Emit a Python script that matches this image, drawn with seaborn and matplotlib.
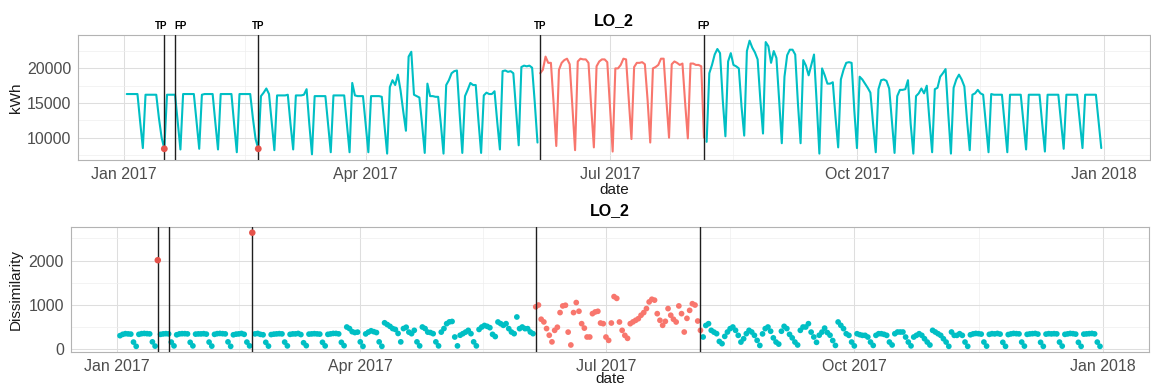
import numpy as np
import pandas as pd
import matplotlib
matplotlib.use("Agg")
import matplotlib.pyplot as plt
import matplotlib.transforms as mtransforms
import seaborn as sns

TEAL = "#00BFC4"
SALMON = "#F8766D"
MARK = "#E5534B"

# Daily energy use (kWh), one row per week (Mon..Sun), 2 Jan 2017 - 31 Dec 2017
kwh_q1 = [
    16300, 16300, 16300, 16300, 16300, 12300, 8500,
    16200, 16200, 16200, 16200, 16200, 12800, 10000,
    8400, 16200, 16200, 16200, 16200, 12300, 8300,
    16300, 16300, 16300, 16300, 16300, 12300, 8400,
    16200, 16300, 16300, 16300, 16300, 12200, 8300,
    16300, 16300, 16300, 16300, 16300, 12000, 7900,
    16300, 16300, 16300, 16300, 16300, 12800, 9800,
    8400, 16000, 16500, 17100, 16300, 12300, 8200,
    16100, 16100, 16100, 16100, 16200, 12000, 8300,
    16100, 16100, 16100, 16200, 17000, 12000, 7600,
    16000, 16000, 16000, 16000, 16000, 12000, 7900,
    16100, 16100, 16100, 16100, 16100, 12000, 7900,
    17900, 16100, 16000, 16000, 16000, 12000, 7900,
]
kwh_q2 = [
    16000, 16000, 16000, 16000, 15900, 11800, 7700,
    17300, 18300, 17600, 19100, 16800, 13800, 11000,
    21700, 22400, 16200, 16000, 15800, 12000, 7800,
    17800, 16000, 16000, 15900, 15900, 12000, 7700,
    17600, 18300, 19300, 19600, 19700, 13500, 7800,
    16000, 16900, 17900, 17600, 17600, 12500, 7800,
    16100, 16500, 16300, 16300, 16700, 12300, 8300,
    19600, 19700, 19500, 19600, 19300, 14000, 8900,
    20200, 20400, 20300, 20400, 20100, 15000, 9300,
    19300, 19800, 21700, 20800, 20800, 15000, 8800,
    19800, 20800, 21200, 21400, 20600, 14500, 8200,
    21000, 21400, 21300, 21300, 20800, 14500, 8600,
    20300, 21000, 21300, 21300, 20900, 14500, 8000,
]
kwh_q3 = [
    20000, 20000, 20500, 21400, 21300, 15500, 9800,
    20200, 20800, 20800, 20900, 20600, 15500, 9300,
    20000, 20200, 20500, 21400, 21400, 15500, 10000,
    20600, 21000, 20800, 20500, 20700, 15000, 9900,
    20700, 20700, 20500, 20500, 20300, 10000, 9400,
    19300, 20500, 22000, 22800, 22200, 15500, 10200,
    21000, 22200, 20500, 20300, 20000, 14500, 10300,
    22500, 24000, 23000, 22300, 21300, 15500, 10600,
    23800, 23200, 20800, 22500, 21500, 15500, 9200,
    18800, 21900, 22700, 22700, 22000, 15000, 9200,
    21200, 20400, 19000, 20500, 22000, 15000, 7700,
    20000, 19000, 17800, 17800, 18000, 13000, 8600,
    18400, 19800, 20800, 20900, 20800, 14000, 8500,
]
kwh_q4 = [
    18800, 18400, 17800, 17200, 16500, 12000, 7900,
    17000, 18300, 18400, 18200, 17100, 12500, 7800,
    16000, 16900, 16900, 17000, 18300, 12000, 7700,
    16000, 16400, 17100, 16400, 17500, 12500, 7900,
    17000, 17200, 18800, 19300, 19900, 13500, 7700,
    17200, 18400, 19100, 18400, 17400, 12500, 8200,
    16200, 16400, 16900, 16400, 16200, 12000, 7900,
    16300, 16200, 16200, 16200, 16200, 12000, 7900,
    16200, 16200, 16200, 16200, 16200, 12200, 8300,
    16200, 16200, 16200, 16200, 16200, 12000, 8000,
    16200, 16200, 16200, 16200, 16200, 12300, 8400,
    16200, 16200, 16200, 16200, 16200, 12300, 8500,
    16200, 16200, 16200, 16200, 16200, 12300, 8500,
]

# Daily dissimilarity score, same calendar layout
dis_q1 = [
    310, 340, 355, 350, 345, 165, 70,
    340, 355, 360, 355, 350, 170, 75,
    2010, 340, 350, 355, 350, 165, 80,
    330, 350, 355, 355, 350, 160, 80,
    345, 350, 350, 355, 345, 165, 75,
    340, 355, 360, 355, 350, 170, 70,
    330, 345, 350, 360, 340, 165, 80,
    2630, 350, 360, 340, 330, 160, 75,
    335, 345, 350, 355, 350, 165, 80,
    340, 350, 350, 360, 335, 150, 85,
    345, 350, 355, 350, 345, 160, 80,
    340, 350, 360, 360, 350, 160, 85,
    505, 470, 400, 380, 390, 170, 70,
]
dis_q2 = [
    350, 390, 420, 400, 380, 170, 70,
    600, 560, 520, 470, 450, 360, 170,
    470, 500, 390, 355, 430, 170, 80,
    505, 470, 390, 380, 355, 170, 80,
    390, 470, 580, 620, 630, 280, 80,
    320, 355, 390, 430, 355, 170, 80,
    450, 505, 540, 520, 490, 340, 290,
    618, 580, 543, 580, 468, 392, 355,
    731, 468, 505, 468, 468, 392, 355,
    960, 1000, 680, 620, 470, 320, 170,
    430, 500, 830, 980, 995, 390, 100,
    830, 1056, 860, 580, 480, 280, 280,
    806, 844, 859, 595, 580, 279, 204,
]
dis_q3 = [
    595, 1190, 1150, 618, 430, 317, 250,
    580, 620, 656, 693, 770, 830, 920,
    1070, 1130, 1110, 806, 656, 543, 633,
    920, 770, 680, 618, 980, 806, 392,
    700, 880, 1030, 1000, 640, 430, 280,
    540, 580, 430, 390, 355, 180, 130,
    294, 392, 468, 505, 430, 317, 166,
    241, 355, 430, 392, 317, 204, 90,
    350, 468, 505, 410, 260, 166, 120,
    410, 520, 470, 340, 260, 166, 100,
    430, 505, 505, 580, 390, 280, 160,
    320, 390, 480, 380, 320, 200, 90,
    618, 543, 468, 354, 317, 166, 80,
]
dis_q4 = [
    354, 332, 317, 317, 279, 166, 90,
    317, 354, 354, 340, 317, 166, 100,
    354, 392, 392, 392, 279, 166, 80,
    279, 317, 354, 317, 241, 166, 100,
    430, 392, 354, 317, 241, 166, 70,
    392, 317, 317, 354, 317, 166, 70,
    330, 350, 360, 355, 345, 166, 75,
    340, 355, 350, 360, 345, 160, 70,
    335, 350, 360, 355, 350, 165, 75,
    340, 350, 355, 360, 345, 160, 70,
    345, 355, 350, 355, 350, 165, 75,
    340, 350, 360, 355, 345, 160, 70,
    345, 350, 355, 360, 350, 165, 70,
]

tp_dates = ["2017-01-16", "2017-02-20", "2017-06-05"]
fp_dates = ["2017-01-20", "2017-08-05"]
flagged_days = ["2017-01-16", "2017-02-20"]
event_start, event_end = "2017-06-05", "2017-08-05"
x_breaks = ["2017-01-01", "2017-04-01", "2017-07-01", "2017-10-01", "2018-01-01"]
x_break_labels = ["Jan 2017", "Apr 2017", "Jul 2017", "Oct 2017", "Jan 2018"]

dates = pd.date_range("2017-01-02", "2017-12-31", freq="D")
df = pd.DataFrame({
    "date": dates,
    "kWh": kwh_q1 + kwh_q2 + kwh_q3 + kwh_q4,
    "Dissimilarity": dis_q1 + dis_q2 + dis_q3 + dis_q4,
})
start, end = pd.Timestamp(event_start), pd.Timestamp(event_end)
df["segment"] = np.where(df["date"] < start, "pre",
                         np.where(df["date"] <= end, "event", "post"))
flag_ts = pd.to_datetime(flagged_days)
df["flagged"] = df["date"].isin(flag_ts)
df["status"] = np.where(df["segment"] == "event", "event", "normal")

sns.set_theme(style="white")
plt.rcParams["font.family"] = ["Liberation Sans", "DejaVu Sans"]

W, H = 1151, 386
fig = plt.figure(figsize=(W / 100, H / 100), dpi=100)
ax1 = fig.add_axes([78 / W, 1 - 160 / H, 1072 / W, 125 / H])
ax2 = fig.add_axes([71 / W, 1 - 352 / H, 1078 / W, 125 / H])

# top: energy line, split into segments around the event window
sns.lineplot(data=df, x="date", y="kWh", hue="segment",
             palette={"pre": TEAL, "event": SALMON, "post": TEAL},
             linewidth=1.5, legend=False, ax=ax1, zorder=3)
sns.scatterplot(data=df[df["flagged"]], x="date", y="kWh", color=MARK,
                s=24, edgecolor="none", ax=ax1, zorder=6)

# bottom: dissimilarity points
sns.scatterplot(data=df[~df["flagged"]], x="date", y="Dissimilarity",
                hue="status", palette={"normal": TEAL, "event": SALMON},
                s=17, edgecolor="none", legend=False, ax=ax2, zorder=3)
sns.scatterplot(data=df[df["flagged"]], x="date", y="Dissimilarity",
                color=MARK, s=22, edgecolor="none", ax=ax2, zorder=6)

x_lo = dates[0] - pd.Timedelta(days=18.15)
x_hi = dates[-1] + pd.Timedelta(days=18.15)
breaks = pd.to_datetime(x_breaks)
minor_breaks = breaks[:-1] + (breaks[1:] - breaks[:-1]) / 2


def expand(values):
    lo, hi = float(np.min(values)), float(np.max(values))
    pad = 0.05 * (hi - lo)
    return lo - pad, hi + pad


def style_panel(ax, col, ymaj, ymin, ylabel, ylabel_x, xlabel_y):
    ax.set_xlim(x_lo, x_hi)
    ax.set_ylim(*expand(df[col]))
    ax.set_xticks(breaks)
    ax.set_xticklabels(x_break_labels)
    ax.set_xticks(minor_breaks, minor=True)
    ax.set_yticks(ymaj)
    ax.set_yticklabels([str(v) for v in ymaj])
    ax.set_yticks(ymin, minor=True)
    ax.grid(which="major", color="#DEDEDE", linewidth=0.75, zorder=0)
    ax.grid(which="minor", color="#EEEEEE", linewidth=0.5, zorder=0)
    ax.set_axisbelow(True)
    for s in ax.spines.values():
        s.set_color("#B3B3B3")
        s.set_linewidth(0.8)
    ax.tick_params(which="major", length=3, width=0.8, color="#B3B3B3",
                   labelsize=11.5, labelcolor="#4D4D4D", pad=2)
    ax.tick_params(which="minor", length=0)
    ax.set_xlabel("date", fontsize=11, color="#1A1A1A")
    ax.xaxis.set_label_coords(0.5, xlabel_y)
    ax.xaxis.label.set_va("center")
    ax.set_ylabel(ylabel, fontsize=11, color="#1A1A1A")
    ax.yaxis.set_label_coords(ylabel_x, 0.5)
    ax.yaxis.label.set_va("center")


style_panel(ax1, "kWh", [10000, 15000, 20000], [7500, 12500, 17500, 22500],
            "kWh", -0.058, -0.24)
style_panel(ax2, "Dissimilarity", [0, 1000, 2000], [500, 1500, 2500],
            "Dissimilarity", -0.051, -0.215)

for ax, title_y in ((ax1, 1.112), (ax2, 1.128)):
    for d in pd.to_datetime(tp_dates + fp_dates):
        ax.axvline(d, color="#1F1F1F", linewidth=1.0, zorder=4)
    ax.text(0.5, title_y, "LO_2", transform=ax.transAxes, ha="center",
            va="center", fontsize=11.5, fontweight="bold", color="black")

# detection labels above the top panel; the close January pair is nudged apart
base = mtransforms.blended_transform_factory(ax1.transData, ax1.transAxes)
nudge_px = {"2017-01-16": -3, "2017-01-20": 6}
for label, group in (("TP", tp_dates), ("FP", fp_dates)):
    for d in group:
        shift = mtransforms.ScaledTranslation(nudge_px.get(d, 0) / 100, 0,
                                              fig.dpi_scale_trans)
        ax1.text(pd.Timestamp(d), 1.072, label, transform=base + shift,
                 ha="center", va="center", fontsize=7, fontweight="bold",
                 color="black", clip_on=False)

fig.savefig("out.png", dpi=100)
